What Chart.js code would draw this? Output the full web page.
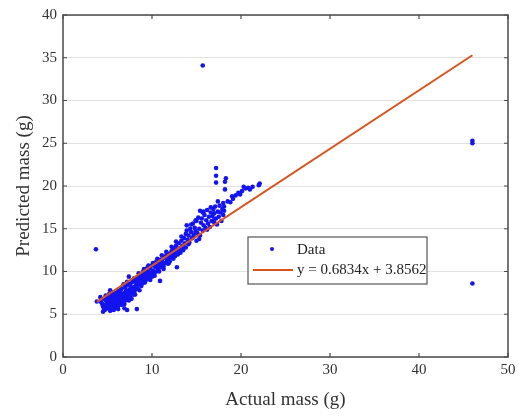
<!DOCTYPE html>
<html>
<head>
<meta charset="utf-8">
<script src="https://cdn.jsdelivr.net/npm/chart.js@4/dist/chart.umd.min.js"></script>
<style>
html,body{margin:0;padding:0;background:#fff;}
canvas{display:block;}
</style>
</head>
<body>
<canvas id="c" width="521" height="416"></canvas>
<script>
// ---- data ----
const actualMass = [
  3.7, 15.7, 46.0, 46.0, 46.0,
  3.8, 4.2, 4.3, 4.5, 4.6, 4.7, 4.7, 4.8, 4.9, 5.0, 5.0, 5.1, 5.2, 5.2, 5.3, 5.3, 5.3, 5.4, 5.4, 5.5, 5.5,
  5.6, 5.6, 5.7, 5.7, 5.8, 5.8, 5.9, 5.9, 6.0, 6.0, 6.1, 6.1, 6.2, 6.2, 6.3, 6.3, 6.4, 6.4, 6.5, 6.5,
  6.6, 6.6, 6.7,
  6.8, 6.8, 6.9, 6.9, 7.0, 7.0, 7.1, 7.2, 7.2, 7.3, 7.3, 7.4, 7.4, 7.5, 7.5, 7.6, 7.6, 7.7, 7.7, 7.8,
  7.9, 7.9, 8.0, 8.0, 8.1, 8.2, 8.2, 8.3, 8.3, 8.4, 8.4, 8.5, 8.6, 8.6, 8.7, 8.7, 8.8, 8.8, 8.9, 9.0,
  9.0, 9.1,
  9.2, 9.3, 9.3, 9.4, 9.5, 9.5, 9.6, 9.7, 9.8, 9.9, 10.0, 10.0, 10.1, 10.2, 10.3, 10.4, 10.5, 10.5,
  10.6, 10.7, 10.8, 10.9, 10.9, 11.0, 11.1, 11.2, 11.3, 11.4, 11.5, 11.6, 11.7, 11.8, 11.9, 12.0, 12.0,
  12.1, 12.2, 12.3, 12.4, 12.5, 12.6, 12.7, 12.8, 12.8, 12.9, 13.0, 13.1, 13.2, 13.3, 13.4, 13.5, 13.6,
  13.7, 13.8, 13.8, 13.9, 14.0, 14.1, 14.2, 14.3, 14.4, 14.5, 14.6, 14.7, 14.8, 14.9, 15.0, 15.0, 15.1,
  15.2,
  15.3, 15.4, 15.4, 15.5, 15.6, 15.7, 15.7, 15.8, 15.9, 16.0, 16.1, 16.2, 16.3, 16.4, 16.5, 16.6, 16.7,
  16.8, 16.9, 17.0, 17.0, 17.1, 17.2, 17.2, 17.2, 17.2, 17.3, 17.4, 17.5, 17.6, 17.7, 17.8, 17.9, 18.0,
  18.0, 18.1, 18.3, 18.2, 18.2,
  18.5, 18.8, 19.0, 19.1, 19.4, 19.7, 19.9, 20.1, 20.3, 20.5, 20.8, 21.0, 21.3, 22.0, 22.1,
  4.4, 4.5, 4.6, 4.8, 5.0, 5.1, 5.2, 5.4, 5.5, 5.6, 5.8, 5.9, 6.0, 6.1, 6.2, 6.3, 6.4, 6.5, 6.6, 6.7,
  6.8, 6.9, 7.0, 7.1, 7.2, 7.2, 7.3, 7.4, 7.5, 7.6, 7.8, 7.9, 8.0, 8.1, 8.3, 8.5, 8.6, 8.9, 9.1, 9.2,
  9.4, 9.6, 9.8, 10.1, 10.3, 10.6, 10.8, 11.1, 11.3, 11.6, 11.9, 12.2, 12.4, 12.7, 13.0, 13.3, 13.5,
  13.9, 14.1, 14.4, 14.6, 14.9, 15.3, 15.8, 16.2, 16.6, 17.0, 17.4, 18.1, 5.3, 5.7, 6.2, 6.9
];
const predictedMass = [
  12.6, 34.1, 25.3, 25.0, 8.6,
  6.5, 7.0, 6.4, 5.9, 6.8, 6.1, 5.5, 7.2, 5.7, 6.4, 7.0, 6.0, 6.6, 7.4, 5.8, 6.3, 7.8, 6.9, 6.1, 7.1, 6.5,
  5.9, 7.5, 6.2, 6.8, 6.4, 7.0, 6.0, 7.3, 6.6, 6.2, 7.0, 6.5, 7.7, 6.0, 6.8, 7.2, 6.3, 7.6, 6.9, 6.5,
  7.3, 8.0, 6.6,
  7.0, 6.4, 7.5, 6.8, 7.2, 8.2, 6.7, 7.6, 7.0, 8.4, 6.9, 7.4, 9.4, 7.9, 7.1, 8.6, 7.5, 6.8, 8.1, 7.7,
  8.8, 7.3, 8.2, 7.6, 9.0, 8.4, 7.9, 5.6, 8.7, 9.3, 8.0, 8.9, 9.6, 8.5, 9.1, 9.6, 8.3, 9.7, 9.4, 8.8,
  10.0, 9.2,
  9.6, 10.2, 9.0, 9.8, 10.5, 9.3, 10.0, 9.5, 10.4, 9.8, 10.7, 9.4, 10.1, 10.9, 9.9, 10.5, 11.2, 10.0,
  10.7, 10.2, 11.0, 8.9, 10.5, 11.4, 10.8, 11.1, 10.6, 11.6, 11.0, 11.9, 11.3, 10.9, 11.7, 12.1, 11.2,
  11.6, 12.4, 11.9, 12.7, 12.2, 11.8, 13.0, 12.5, 10.5, 12.0, 13.3, 12.7, 12.2, 13.6, 13.0, 12.5, 13.9,
  13.3, 14.4, 12.8, 15.4, 13.7, 14.2, 13.4, 15.0, 14.6, 13.9, 15.6, 14.3, 15.1, 14.7, 13.6, 15.9, 14.5,
  16.3,
  15.0, 17.1, 14.2, 15.7, 16.2, 16.9, 14.8, 15.4, 16.6, 15.1, 16.0, 17.2, 15.6, 16.4, 15.2, 16.9, 15.9,
  16.5, 17.3, 15.7, 16.8, 17.6, 16.2, 22.1, 21.2, 20.4, 15.5, 17.0, 16.4, 17.7, 16.9, 15.9, 17.3, 18.0,
  16.6, 17.6, 20.9, 20.5, 19.6,
  18.2, 18.1, 18.8, 18.5, 18.9, 19.2, 19.0, 19.4, 19.9, 19.7, 19.8, 19.6, 19.9, 20.1, 20.3,
  6.2, 5.3, 5.6, 6.6, 5.8, 6.9, 5.6, 7.6, 5.9, 6.7, 5.7, 6.7, 7.5, 5.8, 6.4, 6.1, 7.0, 7.9, 6.1, 7.4,
  8.5, 6.2, 6.6, 7.8, 8.8, 5.5, 7.5, 6.6, 8.4, 6.9, 8.9, 7.9, 9.2, 7.3, 8.1, 9.8, 7.8, 8.6, 10.3, 8.7,
  9.1, 10.7, 9.0, 11.0, 9.5, 11.5, 10.0, 11.9, 10.3, 12.3, 11.0, 12.9, 11.5, 13.5, 12.3, 14.1, 12.9,
  14.8, 13.2, 15.5, 14.0, 16.0, 13.8, 17.0, 14.9, 17.5, 16.1, 18.2, 17.1, 5.4, 5.5, 5.6, 5.7
];
// fitted line end points (y = 0.6834x + 3.8562)
const fitX = [3.8, 46.0];
const fitY = [6.45, 35.29];
const xTicks = [0, 10, 20, 30, 40, 50];
const yTicks = [0, 5, 10, 15, 20, 25, 30, 35, 40];
const dataLabel = 'Data';
const fitLabel = 'y = 0.6834x + 3.8562';

const FONT = "'Liberation Serif', 'Times New Roman', serif";

const framePlugin = {
  id: 'frame',
  afterDatasetsDraw(chart) {
    const {ctx, chartArea: a, scales} = chart;
    ctx.save();
    ctx.strokeStyle = '#4a4a4a';
    ctx.lineWidth = 1.5;
    ctx.strokeRect(a.left, a.top, a.right - a.left, a.bottom - a.top);
    ctx.lineWidth = 1.2;
    const tl = 4;
    scales.x.ticks.forEach(t => {
      const px = scales.x.getPixelForValue(t.value);
      ctx.beginPath();
      ctx.moveTo(px, a.bottom); ctx.lineTo(px, a.bottom - tl);
      ctx.moveTo(px, a.top); ctx.lineTo(px, a.top + tl);
      ctx.stroke();
    });
    scales.y.ticks.forEach(t => {
      const py = scales.y.getPixelForValue(t.value);
      ctx.beginPath();
      ctx.moveTo(a.left, py); ctx.lineTo(a.left + tl, py);
      ctx.moveTo(a.right, py); ctx.lineTo(a.right - tl, py);
      ctx.stroke();
    });
    // legend box
    const ds = chart.data.datasets;
    const bx = a.left + 185, by = a.top + 222, bw = 179, bh = 47;
    ctx.fillStyle = '#ffffff';
    ctx.fillRect(bx, by, bw, bh);
    ctx.strokeStyle = '#555';
    ctx.lineWidth = 1.2;
    ctx.strokeRect(bx, by, bw, bh);
    ctx.font = '15px ' + FONT;
    ctx.textBaseline = 'middle';
    ctx.textAlign = 'left';
    ctx.beginPath();
    ctx.arc(bx + 24, by + 12, 2, 0, Math.PI * 2);
    ctx.fillStyle = ds[0].backgroundColor;
    ctx.fill();
    ctx.fillStyle = '#222';
    ctx.fillText(ds[0].label, bx + 49, by + 13);
    ctx.strokeStyle = ds[1].borderColor;
    ctx.lineWidth = 2;
    ctx.beginPath();
    ctx.moveTo(bx + 5, by + 33); ctx.lineTo(bx + 45, by + 33);
    ctx.stroke();
    ctx.fillText(ds[1].label, bx + 49, by + 33);
    ctx.restore();
  }
};

new Chart(document.getElementById('c'), {
  type: 'scatter',
  data: {
    datasets: [
      {
        label: dataLabel,
        data: actualMass.map((x, i) => ({x: x, y: predictedMass[i]})),
        backgroundColor: '#1414f0',
        borderWidth: 0,
        pointRadius: 2.3,
        pointHoverRadius: 2.3,
        order: 2
      },
      {
        type: 'line',
        label: fitLabel,
        data: fitX.map((x, i) => ({x: x, y: fitY[i]})),
        borderColor: '#d9531e',
        backgroundColor: '#d9531e',
        borderWidth: 2,
        pointRadius: 0,
        fill: false,
        order: 1
      }
    ]
  },
  options: {
    responsive: false,
    animation: false,
    devicePixelRatio: 1,
    layout: {padding: {top: 15, right: 13, bottom: 0, left: 0}},
    plugins: {legend: {display: false}, tooltip: {enabled: false}},
    scales: {
      x: {
        type: 'linear', min: 0, max: 50,
        afterBuildTicks: s => { s.ticks = xTicks.map(v => ({value: v})); },
        afterFit: s => { s.height = 59; },
        ticks: {font: {family: FONT, size: 15}, color: '#333', padding: 4},
        grid: {display: false, drawTicks: false},
        border: {display: false},
        title: {display: true, text: 'Actual mass (g)', font: {family: FONT, size: 19}, color: '#333', padding: {top: 0, bottom: 5}}
      },
      y: {
        type: 'linear', min: 0, max: 40,
        afterBuildTicks: s => { s.ticks = yTicks.map(v => ({value: v})); },
        afterFit: s => { s.width = 63; },
        ticks: {font: {family: FONT, size: 15}, color: '#333', padding: 6},
        grid: {color: '#e2e2e2', lineWidth: 1, drawTicks: false},
        border: {display: false},
        title: {display: true, text: 'Predicted mass (g)', font: {family: FONT, size: 19}, color: '#333', padding: {top: 13, bottom: 0}}
      }
    }
  },
  plugins: [framePlugin]
});
</script>
</body>
</html>
